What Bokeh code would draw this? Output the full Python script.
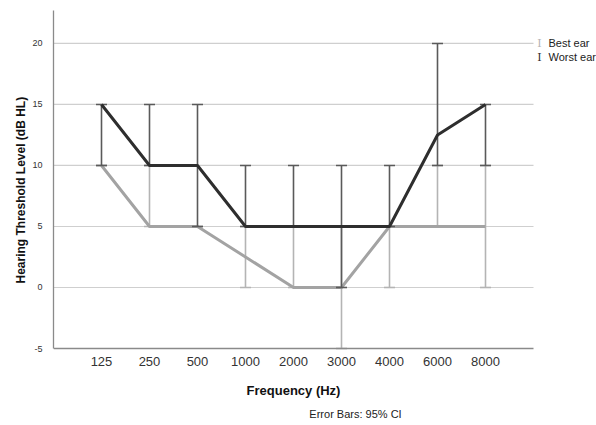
from bokeh.plotting import figure
from bokeh.models import Range1d, FixedTicker, Label, ColumnDataSource, Title
from bokeh.embed import file_html
from bokeh.resources import INLINE

# ---- data ----
freqs = ["125", "250", "500", "1000", "2000", "3000", "4000", "6000", "8000"]
best_mean = [10, 5, 5, 2.5, 0, 0, 5, 5, 5]
best_lo = [10, 5, 5, 0, 0, -5, 0, 5, 0]
best_hi = [10, 10, 5, 5, 5, 5, 5, 10, 10]
worst_mean = [15, 10, 10, 5, 5, 5, 5, 12.5, 15]
worst_lo = [10, 10, 5, 5, 5, 0, 5, 10, 10]
worst_hi = [15, 15, 15, 10, 10, 10, 10, 20, 15]
y_ticks = [-5, 0, 5, 10, 15, 20]
series_names = ["Best ear", "Worst ear"]

xpos = [i + 1 for i in range(len(freqs))]
x_end = len(freqs) + 1
y_min, y_top = y_ticks[0], 22.7

# layout (pixels)
W, H = 596, 424
LEFT, TOP, AX_BOTTOM = 53, 10, 348
px_per_unit = (AX_BOTTOM - TOP) / (y_top - y_min)
y_start = y_min - (H - AX_BOTTOM) / px_per_unit
x_px = 48.0
x_stop = (W - LEFT) / x_px

FONT = "Liberation Sans"
BEST_LINE = "#a3a3a3"
BEST_BAR = "#b4b4b4"
WORST_LINE = "#2e2e2e"
WORST_BAR = "#5a5a5a"

p = figure(width=W, height=H, output_backend="svg", toolbar_location=None,
           x_range=Range1d(0, x_stop), y_range=Range1d(y_start, y_top),
           min_border_left=LEFT, min_border_right=0, min_border_top=TOP,
           min_border_bottom=0)
p.outline_line_color = None
p.background_fill_color = "white"
p.border_fill_color = "white"

# axes
p.xaxis.ticker = FixedTicker(ticks=xpos)
p.xaxis.major_label_overrides = {x: f for x, f in zip(xpos, freqs)}
p.xaxis.bounds = (0, x_end)
p.xaxis.fixed_location = y_min
p.yaxis.ticker = FixedTicker(ticks=y_ticks)
p.yaxis.major_label_overrides = {t: str(t) for t in y_ticks}
p.yaxis.bounds = (y_min, y_top)
for ax in (p.xaxis, p.yaxis):
    ax.major_tick_line_color = None
    ax.minor_tick_line_color = None
    ax.axis_line_color = "#8a8a8a"
    ax.axis_line_width = 1.3
    ax.major_label_text_font = FONT
    ax.major_label_text_color = "#333333"
p.xaxis.major_label_text_font_size = "13px"
p.xaxis.major_label_standoff = 2
p.yaxis.major_label_text_font_size = "9px"
p.yaxis.major_label_standoff = 5
p.grid.visible = False

# horizontal grid lines limited to the plot area
grid_y = [t for t in y_ticks if t > y_min]
p.segment(x0=[0] * len(grid_y), y0=grid_y, x1=[x_end] * len(grid_y), y1=grid_y,
          line_color="#cfcfcf", line_width=1.2)

src = ColumnDataSource(dict(x=xpos, bm=best_mean, bl=best_lo, bh=best_hi,
                            wm=worst_mean, wl=worst_lo, wh=worst_hi))

# best ear error bars + line
p.segment(x0="x", y0="bl", x1="x", y1="bh", source=src, line_color=BEST_BAR, line_width=1.6)
p.scatter(x="x", y="bl", marker="dash", size=11, source=src, line_color=BEST_BAR, line_width=1.6)
p.scatter(x="x", y="bh", marker="dash", size=11, source=src, line_color=BEST_BAR, line_width=1.6)
p.line(x="x", y="bm", source=src, line_color=BEST_LINE, line_width=3)

# worst ear error bars + line
p.segment(x0="x", y0="wl", x1="x", y1="wh", source=src, line_color=WORST_BAR, line_width=1.6)
p.scatter(x="x", y="wl", marker="dash", size=11, source=src, line_color=WORST_BAR, line_width=1.6)
p.scatter(x="x", y="wh", marker="dash", size=11, source=src, line_color=WORST_BAR, line_width=1.6)
p.line(x="x", y="wm", source=src, line_color=WORST_LINE, line_width=3)

# titles
p.add_layout(Title(text="Hearing Threshold Level (dB HL)", align="left", offset=H - 283, standoff=4,
                   text_font=FONT, text_font_size="12px", text_font_style="bold",
                   text_color="#111111"), "left")
p.add_layout(Label(x=x_end / 2, y=y_min - (390 - AX_BOTTOM) / px_per_unit, text="Frequency (Hz)",
                   text_align="center", text_baseline="middle", text_font=FONT,
                   text_font_size="13px", text_font_style="bold", text_color="#111111"))
p.add_layout(Label(x=(355 - LEFT) / x_px, y=y_min - (413 - AX_BOTTOM) / px_per_unit,
                   text="Error Bars: 95% CI", text_align="center", text_baseline="middle",
                   text_font=FONT, text_font_size="11px", text_color="#222222"))

# legend
leg_y = [20, 20 - 14 / px_per_unit]
for name, col, yy in zip(series_names, [BEST_BAR, WORST_LINE], leg_y):
    p.add_layout(Label(x=(539 - LEFT) / x_px, y=yy, text="I", text_align="center",
                       text_baseline="middle", text_font="DejaVu Serif",
                       text_font_size="11px", text_color=col))
    p.add_layout(Label(x=(548 - LEFT) / x_px, y=yy, text=name, text_align="left",
                       text_baseline="middle", text_font=FONT, text_font_size="11px",
                       text_color="#222222"))

open("out.html", "w").write(file_html(p, INLINE))
